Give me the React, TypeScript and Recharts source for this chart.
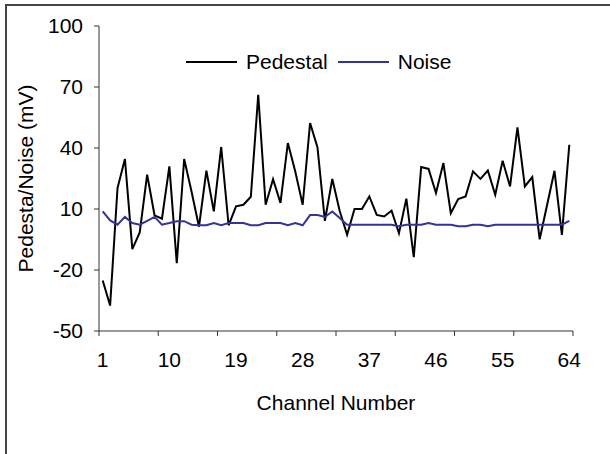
import React from "react";
import { LineChart, Line, XAxis, YAxis, Legend } from "recharts";

const FONT = "'Liberation Sans', Arial, sans-serif";

const CHANNELS = Array.from({ length: 64 }, (_, i) => i + 1);

const PEDESTAL = [
  -25.2, -37.5, 20.3, 34.6, -9.7, -1.5, 26.9, 6.9, 5.2, 31,
  -16.6, 34.6, 18.5, 1.3, 28.9, 8.8, 40.5, 2, 11.3, 12.1,
  16, 66.2, 12.1, 24.6, 13, 42.4, 28.4, 12.1, 52.3, 40.3,
  4.2, 24.8, 9, -2.7, 10, 10, 16.2, 7.1, 6.3, 9.2,
  -1.9, 15.1, -13.7, 30.6, 29.7, 17.9, 32.6, 7.9, 14.9, 16.2,
  28.5, 24.8, 28.9, 17, 33.7, 21.1, 50.2, 21.1, 25.7, -4.9,
  12, 28.8, -2.7, 41.6,
];

const NOISE = [
  8.8, 4.4, 2.3, 6.1, 3.1, 2.3, 4.2, 6.1, 2.3, 3.1,
  4, 4, 2.3, 2, 2, 3.1, 2, 3.1, 3.1, 3.1,
  2, 2, 3.1, 3.1, 3.1, 2, 3.1, 2, 7, 7,
  6.1, 8.8, 5.6, 2.3, 2.3, 2.3, 2.3, 2.3, 2.3, 2.3,
  1.5, 2.3, 2.3, 2.3, 3.1, 2.3, 2.3, 2.3, 1.5, 1.5,
  2.3, 2.3, 1.5, 2.3, 2.3, 2.3, 2.3, 2.3, 2.3, 2.3,
  2.3, 2.3, 2.3, 4.2,
];

const SERIES_ORDER = ["Pedestal", "Noise"];
const X_LABEL_TICKS = [1, 10, 19, 28, 37, 46, 55, 64];
const X_MARK_TICKS = [0.5, 8.5, 16.5, 24.5, 32.5, 40.5, 48.5, 56.5, 64.5];
const Y_TICKS = [-50, -20, 10, 40, 70, 100];

const rows = CHANNELS.map((ch, i) => ({
  ch,
  pedestal: PEDESTAL[i],
  noise: NOISE[i],
}));

const tickStyle = { fill: "#000", fontSize: 21, fontFamily: FONT };

const renderLegend = (props: any) => {
  const items = [...(props.payload || [])].sort(
    (a: any, b: any) => SERIES_ORDER.indexOf(a.value) - SERIES_ORDER.indexOf(b.value)
  );
  return (
    <div
      style={{
        display: "flex",
        alignItems: "center",
        fontSize: 21,
        fontFamily: FONT,
        color: "#000",
        whiteSpace: "nowrap",
      }}
    >
      {items.map((p: any) => (
        <span key={p.value} style={{ display: "flex", alignItems: "center", marginRight: 10 }}>
          <svg width={51} height={4}>
            <line x1={0} y1={2} x2={51} y2={2} stroke={p.color} strokeWidth={2} />
          </svg>
          <span style={{ marginLeft: 9 }}>{p.value}</span>
        </span>
      ))}
    </div>
  );
};

export default function App() {
  return (
    <div style={{ position: "absolute", left: 0, top: 0, width: 610, height: 454, overflow: "hidden", background: "#fff" }}>
      <div
        style={{
          position: "absolute",
          left: 5,
          top: 4,
          width: 640,
          height: 480,
          border: "2px solid #444",
        }}
      />
      <div style={{ position: "absolute", left: 0, top: 0 }}>
        <LineChart
          width={610}
          height={454}
          data={rows}
          margin={{ top: 26, right: 37, bottom: 22, left: 0 }}
          style={{ fontFamily: FONT }}
        >
          <XAxis
            xAxisId="b_labels"
            dataKey="ch"
            type="number"
            domain={[0.5, 64.5]}
            ticks={X_LABEL_TICKS}
            axisLine={false}
            tickLine={false}
            tickSize={0}
            tickMargin={20}
            height={100}
            tick={tickStyle}
            label={({ viewBox }: any) => (
              <text
                x={viewBox.x + viewBox.width / 2}
                y={viewBox.y + 78}
                textAnchor="middle"
                fontSize={21}
                fontFamily={FONT}
                fill="#000"
              >
                Channel Number
              </text>
            )}
          />
          <XAxis
            xAxisId="a_marks"
            dataKey="ch"
            type="number"
            domain={[0.5, 64.5]}
            ticks={X_MARK_TICKS}
            tick={() => <g />}
            tickSize={5}
            height={1}
            stroke="#333"
          />
          <YAxis
            domain={[-50, 100]}
            ticks={Y_TICKS}
            width={99}
            tickSize={5}
            tickMargin={11}
            stroke="#333"
            tick={tickStyle}
            label={({ viewBox }: any) => {
              const cx = 32.5;
              const cy = viewBox.y + viewBox.height / 2;
              return (
                <text
                  x={cx}
                  y={cy}
                  textAnchor="middle"
                  transform={`rotate(-90 ${cx} ${cy})`}
                  fontSize={21}
                  fontFamily={FONT}
                  fill="#000"
                >
                  Pedesta/Noise (mV)
                </text>
              );
            }}
          />
          <Legend
            layout="horizontal"
            verticalAlign="middle"
            align="center"
            content={renderLegend}
            wrapperStyle={{ left: 186, top: 50, width: "auto" }}
          />
          <Line
            xAxisId="b_labels"
            type="linear"
            dataKey="pedestal"
            name="Pedestal"
            stroke="#000"
            strokeWidth={2}
            dot={false}
            isAnimationActive={false}
          />
          <Line
            xAxisId="b_labels"
            type="linear"
            dataKey="noise"
            name="Noise"
            stroke="#333399"
            strokeWidth={2}
            dot={false}
            isAnimationActive={false}
          />
        </LineChart>
      </div>
    </div>
  );
}
